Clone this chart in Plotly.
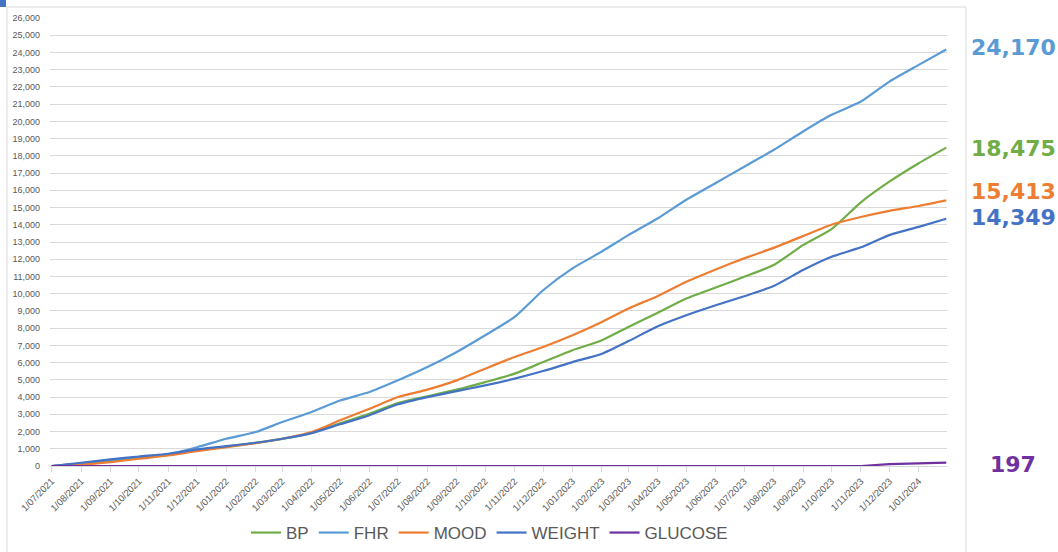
import plotly.graph_objects as go

# ---- data ----
dates = [
    "2021-07-01", "2021-08-01", "2021-09-01", "2021-10-01", "2021-11-01", "2021-12-01",
    "2022-01-01", "2022-02-01", "2022-03-01", "2022-04-01", "2022-05-01", "2022-06-01",
    "2022-07-01", "2022-08-01", "2022-09-01", "2022-10-01", "2022-11-01", "2022-12-01",
    "2023-01-01", "2023-02-01", "2023-03-01", "2023-04-01", "2023-05-01", "2023-06-01",
    "2023-07-01", "2023-08-01", "2023-09-01", "2023-10-01", "2023-11-01", "2023-12-01",
    "2024-01-01", "2024-01-30",
]
bp = [0, 120, 280, 460, 650, 900, 1120, 1340, 1570, 1920, 2480, 3030, 3650, 4040, 4430,
      4870, 5360, 6030, 6720, 7300, 8070, 8900, 9720, 10360, 10980, 11660, 12820, 13750,
      15300, 16500, 17570, 18475]
fhr = [0, 160, 360, 510, 680, 1090, 1580, 1970, 2550, 3130, 3800, 4290, 4970, 5740, 6620,
       7590, 8650, 10200, 11470, 12450, 13400, 14380, 15450, 16420, 17370, 18340, 19410,
       20380, 21150, 22310, 23280, 24170]
mood = [0, 70, 220, 420, 610, 860, 1090, 1330, 1580, 1970, 2650, 3320, 4000, 4430, 4970,
        5650, 6330, 6910, 7590, 8360, 9140, 9870, 10690, 11410, 12050, 12660, 13340, 14000,
        14450, 14810, 15090, 15413]
weight = [0, 190, 380, 550, 710, 960, 1150, 1350, 1580, 1910, 2420, 2950, 3580, 4000, 4350,
          4680, 5070, 5510, 6030, 6520, 7250, 8110, 8750, 9330, 9850, 10440, 11370, 12140,
          12690, 13400, 13880, 14349]
glucose = [0, 0, 0, 0, 0, 0, 0, 0, 0, 0, 0, 0, 0, 0, 0, 0, 0, 0, 0, 0, 0, 0, 0, 0, 0, 0,
           0, 0, 0, 110, 150, 197]

tick_dates = dates[:-1]
tick_labels = [
    "1/07/2021", "1/08/2021", "1/09/2021", "1/10/2021", "1/11/2021", "1/12/2021",
    "1/01/2022", "1/02/2022", "1/03/2022", "1/04/2022", "1/05/2022", "1/06/2022",
    "1/07/2022", "1/08/2022", "1/09/2022", "1/10/2022", "1/11/2022", "1/12/2022",
    "1/01/2023", "1/02/2023", "1/03/2023", "1/04/2023", "1/05/2023", "1/06/2023",
    "1/07/2023", "1/08/2023", "1/09/2023", "1/10/2023", "1/11/2023", "1/12/2023",
    "1/01/2024",
]

series = [
    ("BP", bp, "#70AD47"),
    ("FHR", fhr, "#5B9BD5"),
    ("MOOD", mood, "#ED7D31"),
    ("WEIGHT", weight, "#4472C4"),
    ("GLUCOSE", glucose, "#7030A0"),
]

# ---- layout geometry ----
W, H = 1058, 552
L, R, T, B = 50, 111, 18, 86
PW, PH = W - L - R, H - T - B


def px_x(px):
    return (px - L) / PW


def px_y(py):
    return (H - B - py) / PH


fig = go.Figure()
for name, vals, color in series:
    smooth = name != "GLUCOSE"
    fig.add_trace(go.Scatter(
        x=dates, y=vals, name=name, mode="lines",
        line=dict(color=color, width=2.2,
                  shape="spline" if smooth else "linear",
                  smoothing=0.6 if smooth else None),
    ))

# end-value labels on the right
label_pos = {"FHR": 47, "BP": 148, "MOOD": 192, "WEIGHT": 217, "GLUCOSE": 464}
annotations = []
for name, vals, color in series:
    annotations.append(dict(
        x=px_x(1013), y=px_y(label_pos[name]), xref="paper", yref="paper",
        text=f"<b>{vals[-1]:,}</b>", showarrow=False, xanchor="center", yanchor="middle",
        font=dict(family="DejaVu Sans", size=22, color=color),
    ))

shapes = [
    dict(type="rect", xref="paper", yref="paper",
         x0=px_x(7), x1=px_x(966), y0=px_y(7), y1=px_y(560),
         line=dict(color="#D9D9D9", width=1), fillcolor="rgba(0,0,0,0)", layer="below"),
    dict(type="rect", xref="paper", yref="paper",
         x0=px_x(0), x1=px_x(6), y0=px_y(0), y1=px_y(7),
         line=dict(width=0), fillcolor="#4472C4"),
]

fig.update_layout(
    width=W, height=H,
    margin=dict(l=L, r=R, t=T, b=B, autoexpand=False),
    paper_bgcolor="white", plot_bgcolor="white",
    font=dict(family="Liberation Sans", color="#595959"),
    showlegend=True,
    legend=dict(orientation="h", x=0.49, xanchor="center", y=px_y(533), yanchor="middle",
                font=dict(size=17, color="#595959"), itemwidth=30,
                bgcolor="rgba(0,0,0,0)"),
    annotations=annotations,
    shapes=shapes,
)
fig.update_xaxes(
    type="date", range=["2021-06-29 05:00", "2024-01-30 19:00"],
    tickvals=tick_dates, ticktext=tick_labels, tickangle=-45,
    tickfont=dict(size=9.5, color="#595959"),
    showgrid=False, showline=True, linecolor="#D9D9D9", linewidth=1,
    ticks="outside", ticklen=5, tickcolor="#D9D9D9", zeroline=False,
)
fig.update_yaxes(
    range=[0, 26000], dtick=1000, tickformat=",",
    tickfont=dict(size=9, color="#595959"),
    showgrid=True, gridcolor="#D9D9D9", gridwidth=1,
    showline=False, zeroline=False, ticks="", ticklabelstandoff=9,
)

fig.write_html("out.html", config={"displayModeBar": False},
               post_script="document.body.style.margin='0';")
